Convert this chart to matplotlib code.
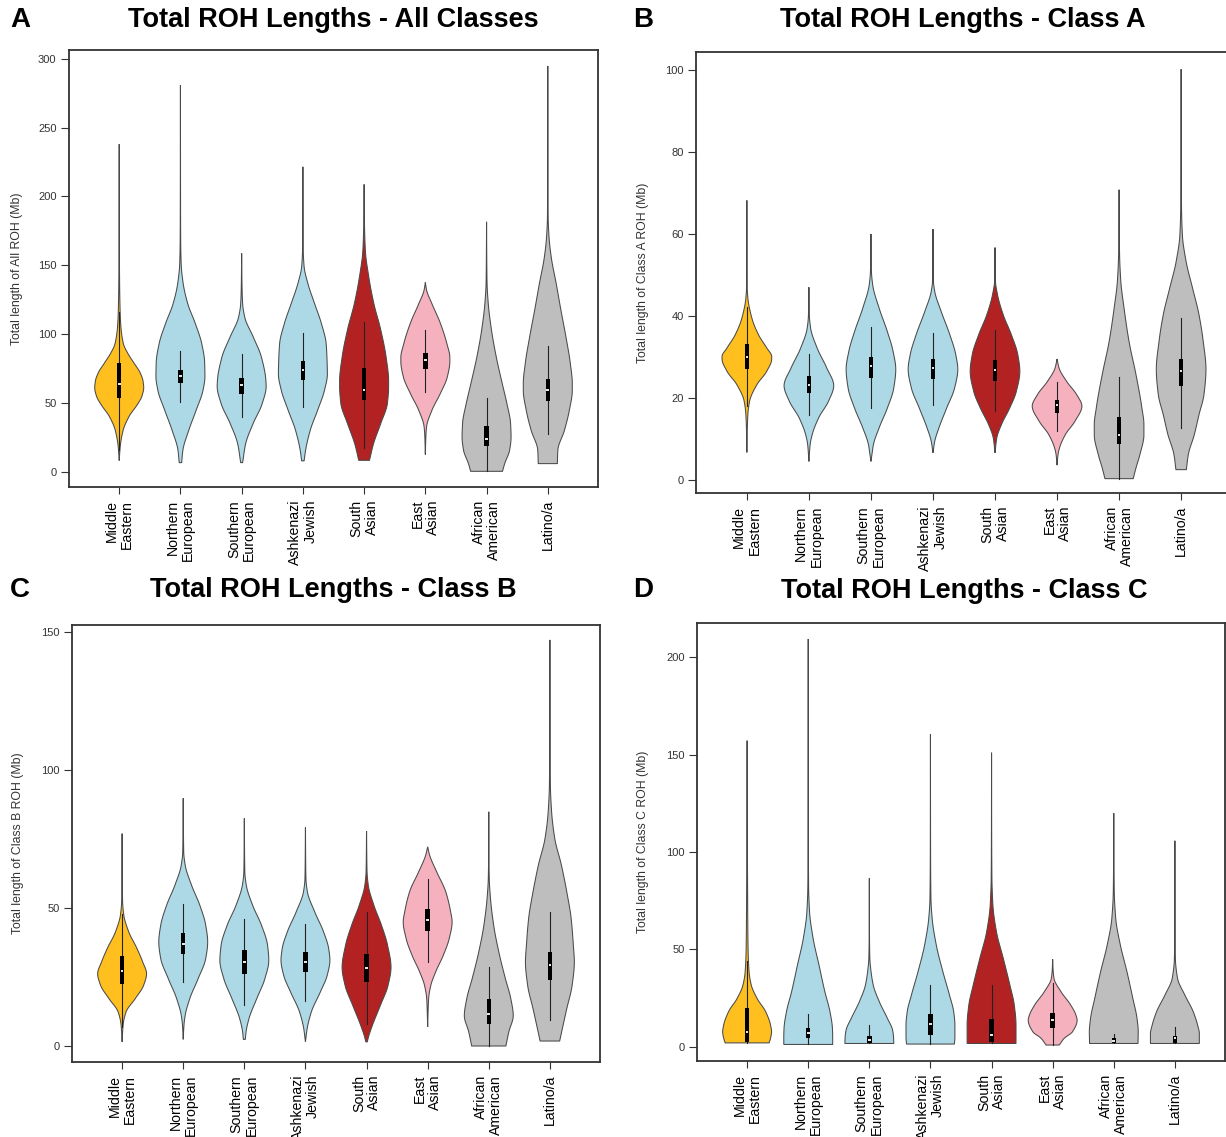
import numpy as np
import matplotlib
matplotlib.use("Agg")
import matplotlib.pyplot as plt

plt.rcParams['font.family'] = ['Liberation Sans', 'DejaVu Sans']

# ---------------- data ----------------
groups = ["Middle\nEastern", "Northern\nEuropean", "Southern\nEuropean", "Ashkenazi\nJewish",
          "South\nAsian", "East\nAsian", "African\nAmerican", "Latino/a"]
colors = ["#FFBF1F", "#ADD8E6", "#ADD8E6", "#ADD8E6", "#B22222", "#F6B1BF", "#BEBEBE", "#BEBEBE"]

titles = ["Total ROH Lengths - All Classes", "Total ROH Lengths - Class A",
          "Total ROH Lengths - Class B", "Total ROH Lengths - Class C"]
letters = ["A", "B", "C", "D"]
ylabels = ["Total length of All ROH (Mb)", "Total length of Class A ROH (Mb)",
           "Total length of Class B ROH (Mb)", "Total length of Class C ROH (Mb)"]
yticks_A = [0, 50, 100, 150, 200, 250, 300]
yticks_B = [0, 20, 40, 60, 80, 100]
yticks_C = [0, 50, 100, 150]
yticks_D = [0, 50, 100, 150, 200]

# box stats per group: lower whisker, q1, median, q3, upper whisker
A_wlo = [16.0, 50.7, 39.8, 46.6, 17.2, 58.0, 0.2, 27.2]
A_q1 = [53.6, 64.5, 56.7, 66.9, 52.0, 74.7, 18.9, 51.0]
A_med = [64.0, 69.3, 63.3, 73.7, 59.6, 81.0, 24.0, 59.0]
A_q3 = [78.6, 74.2, 68.4, 80.5, 75.0, 86.3, 33.2, 67.4]
A_whi = [116.0, 88.0, 85.8, 100.9, 108.9, 103.3, 53.6, 91.2]

B_wlo = [18.1, 15.8, 17.5, 18.2, 16.7, 11.9, 0.3, 12.7]
B_q1 = [27.1, 21.2, 24.9, 24.7, 24.2, 16.3, 8.8, 22.8]
B_med = [30.1, 23.2, 27.7, 27.3, 26.9, 18.2, 11.0, 26.5]
B_q3 = [33.1, 25.3, 30.1, 29.5, 29.3, 19.6, 15.3, 29.6]
B_whi = [42.1, 30.7, 37.4, 35.8, 36.6, 24.0, 25.0, 39.5]

C_wlo = [7.0, 23.2, 15.0, 16.2, 8.1, 30.5, 0.0, 9.3]
C_q1 = [22.3, 33.5, 26.2, 26.9, 23.2, 41.6, 8.1, 23.8]
C_med = [27.1, 37.1, 30.5, 30.5, 28.1, 45.6, 11.7, 29.3]
C_q3 = [32.5, 40.8, 34.7, 33.9, 33.3, 49.5, 16.9, 33.9]
C_whi = [47.8, 51.3, 46.2, 44.4, 48.4, 60.7, 28.7, 48.6]

D_wlo = [2.0, 1.2, 1.7, 1.4, 1.7, 0.9, 1.7, 1.7]
D_q1 = [2.6, 4.3, 1.7, 6.3, 2.6, 9.8, 2.0, 1.7]
D_med = [7.4, 7.2, 3.4, 11.5, 6.0, 13.7, 3.1, 4.3]
D_q3 = [19.7, 9.4, 5.7, 16.8, 14.2, 17.1, 4.3, 5.7]
D_whi = [44.0, 16.6, 11.1, 31.7, 31.7, 32.5, 6.8, 10.3]

# density outlines: value levels and relative half-width
A_prof_y = [
    [8, 18, 30, 40, 49, 55, 61, 66, 72, 79, 86, 93, 105, 115, 140, 170, 238],
    [6.5, 15.5, 30, 45, 59, 69, 79, 93, 108, 122, 137, 151, 170, 200, 281],
    [6.5, 20, 35, 49.5, 62, 66, 83, 98, 112, 122, 135, 158.6],
    [7.8, 15.5, 30, 45, 59, 71, 79, 93, 108, 122, 137, 149, 161, 190, 221.6],
    [8.2, 20, 35, 49.5, 62, 66, 83, 103, 122, 141.6, 161, 185, 208.8],
    [12.4, 25, 32.5, 44.6, 56.7, 69, 80, 83, 93, 108, 122, 132, 137.5],
    [0.2, 5.8, 15.5, 25, 35, 49.5, 64, 83, 103, 122, 137, 155, 181.6],
    [5.8, 15.5, 30, 44.6, 59, 64, 78.6, 98, 117, 137, 156, 170.7, 185, 220, 294.9],
]
A_prof_w = [
    [0, 0.04, 0.16, 0.4, 0.75, 0.93, 1.0, 0.97, 0.85, 0.6, 0.35, 0.17, 0.07, 0.04, 0.015, 0.005, 0],
    [0.05, 0.1, 0.34, 0.65, 0.92, 1.0, 0.99, 0.87, 0.6, 0.3, 0.11, 0.03, 0.01, 0.005, 0],
    [0.04, 0.16, 0.47, 0.84, 1.0, 0.99, 0.81, 0.47, 0.13, 0.04, 0.015, 0],
    [0.05, 0.11, 0.3, 0.61, 0.88, 1.0, 0.99, 0.95, 0.75, 0.48, 0.2, 0.05, 0.015, 0.005, 0],
    [0.22, 0.38, 0.68, 0.95, 1.0, 1.0, 0.9, 0.68, 0.4, 0.19, 0.05, 0.01, 0],
    [0, 0.02, 0.05, 0.27, 0.61, 0.9, 1.0, 1.0, 0.88, 0.61, 0.27, 0.05, 0],
    [0.65, 0.74, 0.94, 1.0, 0.98, 0.83, 0.64, 0.4, 0.2, 0.07, 0.02, 0.008, 0],
    [0.39, 0.41, 0.68, 0.88, 1.0, 1.0, 0.92, 0.74, 0.54, 0.34, 0.14, 0.05, 0.015, 0.005, 0],
]

B_prof_y = [
    [6.7, 11.9, 15.9, 19.2, 23.2, 26.5, 29.5, 30.1, 32.2, 35.4, 39.5, 44.4, 46.8, 55, 68.2],
    [4.5, 8.6, 11, 15.1, 19.2, 23, 27.3, 32.2, 37, 40, 47],
    [4.5, 6.2, 8.6, 12.7, 17.5, 22.4, 27, 31.4, 36.2, 41.9, 47.6, 50.9, 60],
    [6.6, 9.4, 12.7, 17.5, 22.4, 27, 30.5, 35.4, 41.1, 46, 48.4, 61.2],
    [6.6, 10.2, 13.5, 17.5, 21.6, 26.5, 30.5, 35.4, 40.3, 45.2, 48.4, 56.7],
    [3.6, 6.2, 7.8, 11, 14.3, 18, 20.8, 24, 27.3, 29.5],
    [0.3, 2.9, 6.2, 11, 13.5, 17.5, 25.7, 33.8, 41.9, 48.4, 54.9, 62, 70.8],
    [2.5, 6.2, 11, 15.9, 20.8, 27, 33.8, 40.3, 46.8, 53.3, 59.8, 67, 80, 100.2],
]
B_prof_w = [
    [0, 0.015, 0.04, 0.11, 0.4, 0.8, 1.0, 1.0, 0.8, 0.47, 0.2, 0.04, 0.015, 0.005, 0],
    [0, 0.05, 0.13, 0.39, 0.79, 1.0, 0.72, 0.33, 0.07, 0.02, 0],
    [0, 0.04, 0.1, 0.33, 0.66, 0.92, 1.0, 0.89, 0.66, 0.33, 0.07, 0.02, 0],
    [0, 0.07, 0.24, 0.55, 0.87, 1.0, 0.92, 0.68, 0.33, 0.07, 0.02, 0],
    [0, 0.07, 0.26, 0.59, 0.86, 1.0, 0.92, 0.66, 0.33, 0.1, 0.02, 0],
    [0, 0.04, 0.1, 0.33, 0.72, 1.0, 0.79, 0.39, 0.08, 0],
    [0.57, 0.68, 0.84, 1.0, 1.0, 0.92, 0.68, 0.4, 0.2, 0.07, 0.02, 0.005, 0],
    [0.21, 0.29, 0.53, 0.72, 0.92, 1.0, 0.89, 0.72, 0.46, 0.2, 0.05, 0.015, 0.005, 0],
]

C_prof_y = [
    [1.5, 7.5, 12.3, 17.2, 22, 26.2, 30.5, 35.3, 41.4, 47.4, 52.3, 60, 77],
    [2.4, 7.5, 11.1, 17.2, 24.4, 31.7, 37.7, 43.8, 51, 58.3, 65.6, 70.4, 89.8],
    [2.4, 5.1, 9.9, 17.2, 24.4, 31, 36.5, 43.8, 51, 58.3, 63.1, 82.5],
    [1.5, 6.3, 12.3, 19.6, 25.6, 31.1, 35.3, 41.4, 48.6, 55.9, 60.7, 79.2],
    [1.5, 3.3, 7.5, 14.8, 22, 28.5, 36.5, 43.8, 51, 58.3, 63.1, 77.9],
    [6.9, 17.2, 22, 26.9, 32.9, 38.9, 45, 48.6, 55.9, 63.1, 69.2, 72.2],
    [0, 5.1, 11, 17.2, 24.4, 34.1, 43.8, 53.5, 60.7, 70, 84.9],
    [1.8, 6.3, 13.5, 22, 30.5, 36.5, 46.2, 55.9, 65.6, 75.2, 84.9, 94.6, 110, 147.2],
]
C_prof_w = [
    [0, 0.04, 0.16, 0.54, 0.88, 1.0, 0.84, 0.61, 0.27, 0.07, 0.02, 0.008, 0],
    [0, 0.03, 0.08, 0.27, 0.61, 0.92, 1.0, 0.92, 0.68, 0.34, 0.08, 0.02, 0],
    [0.04, 0.07, 0.19, 0.51, 0.84, 1.0, 0.95, 0.7, 0.34, 0.08, 0.02, 0],
    [0, 0.07, 0.24, 0.61, 0.89, 1.0, 0.95, 0.74, 0.38, 0.08, 0.02, 0],
    [0.03, 0.08, 0.24, 0.57, 0.88, 1.0, 0.86, 0.61, 0.3, 0.07, 0.02, 0],
    [0, 0.04, 0.13, 0.33, 0.64, 0.88, 1.0, 0.94, 0.74, 0.37, 0.08, 0],
    [0.7, 0.82, 1.0, 0.9, 0.68, 0.41, 0.2, 0.07, 0.02, 0.005, 0],
    [0.4, 0.51, 0.69, 0.91, 1.0, 0.96, 0.87, 0.69, 0.47, 0.2, 0.07, 0.02, 0.007, 0],
]

D_prof_y = [
    [2, 5, 7.7, 11.1, 18, 24.8, 31.7, 38.5, 50, 62.5, 96.7, 120.7, 157.2],
    [1.2, 5, 9.4, 18, 28.3, 42, 55.7, 69.3, 83, 120, 209.4],
    [1.7, 5, 8.6, 14.6, 23.1, 31.7, 40.2, 45.4, 60, 86.5],
    [1.4, 5, 11.1, 18, 26.5, 38.5, 52.2, 65.9, 76.2, 100, 160.4],
    [1.7, 6, 11.1, 21.4, 31.7, 45.4, 59.1, 72.8, 86.5, 110, 151],
    [0.9, 4.3, 7.7, 13.7, 16.3, 21.4, 28.3, 35.1, 40, 44.9],
    [1.7, 7.7, 14.6, 24.8, 38.5, 52.2, 65.9, 79.6, 100, 119.9],
    [1.7, 6.8, 11.1, 18, 26.5, 35.1, 45.4, 60, 105.8],
]
D_prof_w = [
    [0.9, 0.97, 1.0, 0.96, 0.76, 0.41, 0.17, 0.08, 0.04, 0.028, 0.014, 0.005, 0],
    [1.0, 1.0, 0.99, 0.89, 0.68, 0.44, 0.2, 0.055, 0.015, 0.005, 0],
    [1.0, 0.99, 0.95, 0.74, 0.41, 0.16, 0.055, 0.02, 0.005, 0],
    [0.98, 1.0, 1.0, 0.95, 0.78, 0.51, 0.24, 0.07, 0.02, 0.006, 0],
    [1.0, 1.0, 1.0, 0.93, 0.75, 0.48, 0.2, 0.055, 0.015, 0.005, 0],
    [0.27, 0.47, 0.81, 1.0, 0.95, 0.74, 0.34, 0.055, 0.015, 0],
    [0.99, 1.0, 0.95, 0.78, 0.54, 0.27, 0.08, 0.02, 0.006, 0],
    [1.0, 1.0, 0.93, 0.75, 0.41, 0.11, 0.02, 0.006, 0],
]

# ---------------- helpers ----------------
def pchip(x, y, xn):
    x = np.asarray(x, float)
    y = np.asarray(y, float)
    h = np.diff(x)
    d = np.diff(y) / h
    n = len(x)
    m = np.zeros(n)
    for k in range(1, n - 1):
        if d[k - 1] * d[k] > 0:
            w1 = 2 * h[k] + h[k - 1]
            w2 = h[k] + 2 * h[k - 1]
            m[k] = (w1 + w2) / (w1 / d[k - 1] + w2 / d[k])
    m[0] = d[0]
    m[-1] = d[-1]
    idx = np.clip(np.searchsorted(x, xn) - 1, 0, n - 2)
    t = (xn - x[idx]) / h[idx]
    h00 = 2 * t**3 - 3 * t**2 + 1
    h10 = t**3 - 2 * t**2 + t
    h01 = -2 * t**3 + 3 * t**2
    h11 = t**3 - t**2
    out = h00 * y[idx] + h10 * h[idx] * m[idx] + h01 * y[idx + 1] + h11 * h[idx] * m[idx + 1]
    return np.clip(out, 0, None)


W, H = 1226, 1137
fig = plt.figure(figsize=(W / 100, H / 100), dpi=100)

# axes boxes in pixels: left, right, top, bottom
boxes = [(69, 598, 50, 487), (696, 1232, 52, 493), (72, 600, 625, 1062), (697, 1225, 623, 1061)]
ylims = [(-11.2, 306.5), (-3.2, 104.4), (-5.8, 152.6), (-7.3, 217.6)]
title_pos = [(333, 20), (963, 20), (333, 590), (964, 591)]
letter_pos = [(20, 20), (643, 20), (20, 590), (643, 590)]
ylab_x = [17, 643, 18, 643]

panels = [
    (A_prof_y, A_prof_w, A_wlo, A_q1, A_med, A_q3, A_whi, yticks_A),
    (B_prof_y, B_prof_w, B_wlo, B_q1, B_med, B_q3, B_whi, yticks_B),
    (C_prof_y, C_prof_w, C_wlo, C_q1, C_med, C_q3, C_whi, yticks_C),
    (D_prof_y, D_prof_w, D_wlo, D_q1, D_med, D_q3, D_whi, yticks_D),
]

HALF = 0.40
BOXW = 0.037
for p, (py, pw, wlo, q1, med, q3, whi, yt) in enumerate(panels):
    l, r, t, b = boxes[p]
    ax = fig.add_axes([l / W, 1 - b / H, (r - l) / W, (b - t) / H])
    for i in range(len(groups)):
        c = i + 1
        yy = np.linspace(py[i][0], py[i][-1], 600)
        hw = HALF * pchip(py[i], pw[i], yy)
        xs = np.concatenate([c - hw, (c + hw)[::-1]])
        ys = np.concatenate([yy, yy[::-1]])
        ax.fill(xs, ys, facecolor=colors[i], edgecolor="#4a4a4a", linewidth=0.75, zorder=2)
        ax.plot([c, c], [wlo[i], whi[i]], color="#222222", linewidth=0.8, zorder=3)
        ax.add_patch(plt.Rectangle((c - BOXW, q1[i]), 2 * BOXW, q3[i] - q1[i],
                                   facecolor="black", edgecolor="none", zorder=4))
        ax.plot([c - 0.022, c + 0.022], [med[i], med[i]], color="white", linewidth=1.3,
                solid_capstyle="butt", zorder=5)
    ax.set_xlim(0.18, 8.82)
    ax.set_ylim(*ylims[p])
    ax.set_yticks(yt)
    ax.set_yticklabels([str(v) for v in yt])
    ax.set_xticks(range(1, 9))
    ax.set_xticklabels(groups, rotation=90, ha="center", va="top", multialignment="right",
                       fontsize=10.2, color="black", linespacing=1.1)
    ax.tick_params(axis="y", direction="out", length=6, width=0.8, pad=3, labelsize=8,
                   colors="#333333")
    ax.tick_params(axis="x", direction="out", length=5, width=0.8, pad=4.3, colors="#333333",
                   labelcolor="black")
    for s in ax.spines.values():
        s.set_color("#333333")
        s.set_linewidth(1.3)
        s.set_zorder(6)
    cy = 1 - (t + b) / 2 / H
    fig.text(ylab_x[p] / W, cy, ylabels[p], rotation=90, ha="center", va="center",
             fontsize=8.8, color="#333333")
    tx, ty = title_pos[p]
    fig.text(tx / W, 1 - ty / H, titles[p], ha="center", va="center", fontsize=19.5,
             fontweight="bold")
    lx, ly = letter_pos[p]
    fig.text(lx / W, 1 - ly / H, letters[p], ha="center", va="center", fontsize=20,
             fontweight="bold")

fig.savefig("out.png", dpi=100)
